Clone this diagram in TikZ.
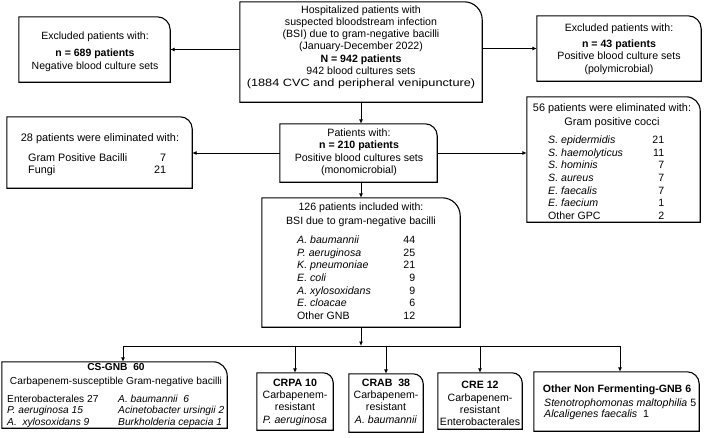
\documentclass[tikz,border=0pt]{standalone}
\usepackage{fontspec}
\setmainfont{Liberation Sans}
\usetikzlibrary{arrows.meta}
\tikzset{
  boxline/.style={line width=1.1pt, line join=miter},
  arr/.style={line width=0.9pt, -{Latex[length=4.5pt,width=4pt]}},
  conn/.style={line width=0.9pt},
  txt/.style={inner sep=0pt, font=\fontsize{10.6}{12.4}\selectfont, align=center},
  lst/.style={inner sep=0pt, font=\fontsize{10.6}{12.7}\selectfont, align=left, anchor=north west},
  holder/.style={inner sep=0pt, draw=none},
}
% #1 name, #2 x1, #3 y1, #4 x2, #5 y2, #6 corner radius
\newcommand\mkframe[6]{%
  \node[holder, minimum width=#4pt-#2pt, minimum height=#5pt-#3pt] (#1) at ({(#2+#4)/2},{(#3+#5)/2}) {};
  \draw[boxline] (#1.south west) -- (#1.north west) -- ([xshift=-#6pt]#1.north east)
     arc[start angle=90,end angle=0,radius=#6pt] -- (#1.south east) -- cycle;
}
\newcommand\rowlr[3]{\makebox[#1pt][l]{#2\hfill #3}}
\begin{document}
\begin{tikzpicture}[x=1pt,y=-1pt]
\fill[white] (0,0) rectangle (708,437);
\useasboundingbox (0,0) rectangle (708,437);

% frames
\mkframe{b1}{19}{17}{170}{82}{13}
\mkframe{main}{240}{2}{482}{102}{18}
\mkframe{b3}{537}{16}{701}{81}{13}
\mkframe{b210}{280}{124}{437}{182}{12}
\mkframe{b2}{7}{117}{192}{188}{12}
\mkframe{b4}{527}{97}{700}{222}{14}
\mkframe{g126}{262}{198}{460}{327}{18}
\mkframe{cs}{2}{362}{227}{428}{14}
\mkframe{crpa}{257}{373}{333}{430}{10}
\mkframe{crab}{349}{374}{423}{432}{10}
\mkframe{cre}{438}{373}{522}{429}{10}
\mkframe{oth}{534}{372}{699}{431}{12}

% texts
\node[txt, anchor=north, font=\fontsize{10.5}{13}\selectfont] (b1t) at (95,31.5) {Excluded patients with:\\[4pt]\textbf{n = 689 patients}\\Negative blood culture sets};
\node[txt, anchor=north, font=\fontsize{10.6}{12.2}\selectfont] (maint) at (361,5.5) {Hospitalized patients with\\suspected bloodstream infection\\(BSI) due to gram-negative bacilli\\(January-December 2022)\\\textbf{N = 942 patients}\\942 blood cultures sets\\\scalebox{1.2}[1]{(1884 CVC and peripheral venipuncture)}};
\node[txt, anchor=north] (b3t) at (619,23.5) {Excluded patients with:\\[3.5pt]\textbf{n = 43 patients}\\Positive blood culture sets\\(polymicrobial)};
\node[txt, anchor=north] (b210t) at (359,128.5) {Patients with:\\\textbf{n = 210 patients}\\Positive blood cultures sets\\(monomicrobial)};

\node[txt, anchor=north, font=\fontsize{10.9}{12.4}\selectfont] (b2h) at (100,133.5) {28 patients were eliminated with:};
\node[lst, font=\fontsize{10.8}{12.2}\selectfont] (b2l) at (28,153.5) {\rowlr{138}{Gram Positive Bacilli}{7}\\\rowlr{138}{Fungi}{21}};

\node[txt, anchor=north, font=\fontsize{10.9}{12.4}\selectfont] (b4h) at (612,103.5) {56 patients were eliminated with:\\[1.6pt]Gram positive cocci};
\node[lst] (b4l) at (548,135.5) {\rowlr{116}{\textit{S. epidermidis}}{21}\\
\rowlr{116}{\textit{S. haemolyticus}}{11}\\
\rowlr{116}{\textit{S. hominis}}{7}\\
\rowlr{116}{\textit{S. aureus}}{7}\\
\rowlr{116}{\textit{E. faecalis}}{7}\\
\rowlr{116}{\textit{E. faecium}}{1}\\
\rowlr{116}{Other GPC}{2}};

\node[txt, anchor=north] (g126h) at (361,202.5) {126 patients included with:\\[1.6pt]BSI due to gram-negative bacilli};
\node[lst] (g126l) at (297,235.5) {\rowlr{118}{\textit{A. baumannii}}{44}\\
\rowlr{118}{\textit{P. aeruginosa}}{25}\\
\rowlr{118}{\textit{K. pneumoniae}}{21}\\
\rowlr{118}{\textit{E. coli}}{9}\\
\rowlr{118}{\textit{A. xylosoxidans}}{9}\\
\rowlr{118}{\textit{E. cloacae}}{6}\\
\rowlr{118}{Other GNB}{12}};

\node[txt, anchor=north, font=\fontsize{10.2}{12.4}\selectfont] (csh) at (116,363.5) {\textbf{CS-GNB\ \ 60}\\[1.6pt]Carbapenem-susceptible Gram-negative bacilli};
\node[lst, font=\fontsize{10.2}{11.6}\selectfont] (csl) at (7,394.5) {Enterobacterales 27\\\textit{P. aeruginosa 15}\\\textit{A.\ \ xylosoxidans 9}};
\node[lst, font=\fontsize{10.2}{11.6}\selectfont] (csr) at (118,394.5) {\textit{A. baumannii\ \ 6}\\\textit{Acinetobacter ursingii 2}\\\textit{Burkholderia cepacia 1}};

\node[txt, anchor=north] (crpat) at (295,378.5) {\textbf{CRPA 10}\\Carbapenem-\\resistant\\\textit{P. aeruginosa}};
\node[txt, anchor=north] (crabt) at (386,378.5) {\textbf{CRAB\ \ 38}\\Carbapenem-\\resistant\\\textit{A. baumannii}};
\node[txt, anchor=north] (cret) at (480,381) {\textbf{CRE 12}\\Carbapenem-\\resistant\\Enterobacterales};
\node[txt, anchor=north] (othh) at (617,384.5) {\textbf{Other Non Fermenting-GNB 6}};
\node[lst, font=\fontsize{10.6}{11.2}\selectfont] (othl) at (544,398.5) {\textit{Stenotrophomonas maltophilia} 5\\\textit{Alcaligenes faecalis}\ \ 1};

% connectors
\draw[arr] (main.west |- b1.east) -- (b1.east);
\draw[arr] (main.east |- b3.west) -- (b3.west);
\draw[arr] (main.south) -- (main.south |- b210.north);
\draw[arr] (b210.west) -- (b2.east |- b210.west);
\draw[arr] (b210.east) -- (b4.west |- b210.east);
\draw[arr] (b210.south -| main.south) -- (main.south |- g126.north);

\coordinate (jc) at (361,346);
\coordinate (jl) at (123,346);
\coordinate (jr) at (620,346);
\draw[arr] (g126.south -| jc) -- (jc);
\draw[conn] (jl) -- (jr);
\draw[arr] (jl) -- (jl |- cs.north);
\draw[arr] (crpa.north |- jl) -- (crpa.north);
\draw[arr] (crab.north |- jl) -- (crab.north);
\draw[arr] (cre.north |- jl) -- (cre.north);
\draw[arr] (jr) -- (jr |- oth.north);
\end{tikzpicture}
\end{document}
